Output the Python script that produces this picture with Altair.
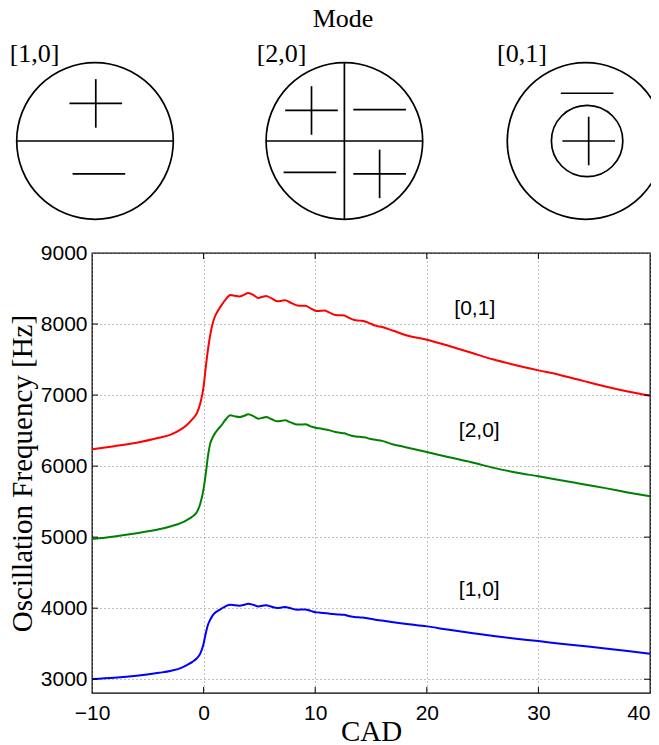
import altair as alt
import pandas as pd

# ---------------- data ----------------
cad = [-10, -8, -6, -4, -3, -2, -1.5, -1, -0.6, -0.3, 0, 0.2, 0.4, 0.6, 0.8, 1.0,
       1.3, 1.6, 2.0, 2.4, 2.8, 3.2, 3.6, 4.0, 4.5, 4.9, 5.3, 5.6, 6.1, 6.6, 7.0,
       7.3, 7.8, 8.4, 8.8, 9.1, 9.6, 10.1, 10.5, 10.8, 11.3, 11.8, 12.2, 12.6,
       13.0, 13.5, 14.0, 14.4, 14.9, 15.4, 16.0, 17, 18, 20, 22, 24, 26, 28, 30,
       32, 34, 36, 38, 40]

freq_01 = [6236, 6280, 6330, 6400, 6440, 6520, 6580, 6660, 6745, 6880, 7120, 7400,
           7650, 7850, 8000, 8099, 8190, 8264, 8350, 8408, 8398, 8388, 8410, 8437,
           8405, 8366, 8385, 8395, 8360, 8320, 8328, 8334, 8300, 8262, 8258, 8259,
           8220, 8183, 8187, 8189, 8160, 8127, 8124, 8120, 8090, 8057, 8048, 8040,
           8010, 7978, 7958, 7905, 7850, 7780, 7690, 7595, 7500, 7420, 7348, 7280,
           7200, 7120, 7050, 6990]

freq_20 = [4973, 5010, 5055, 5110, 5150, 5200, 5240, 5290, 5355, 5470, 5680, 5900,
           6150, 6320, 6400, 6457, 6520, 6574, 6660, 6715, 6700, 6690, 6705, 6729,
           6700, 6668, 6682, 6691, 6660, 6630, 6638, 6644, 6615, 6584, 6586, 6588,
           6560, 6536, 6530, 6520, 6503, 6480, 6470, 6462, 6440, 6420, 6412, 6405,
           6385, 6370, 6355, 6305, 6270, 6198, 6125, 6055, 5975, 5910, 5856, 5800,
           5745, 5690, 5630, 5575]

freq_10 = [3002, 3020, 3048, 3090, 3115, 3160, 3200, 3245, 3295, 3360, 3500, 3650,
           3770, 3840, 3895, 3931, 3965, 3993, 4030, 4050, 4040, 4035, 4045, 4063,
           4045, 4025, 4035, 4040, 4020, 4002, 4010, 4016, 3998, 3979, 3981, 3983,
           3962, 3941, 3937, 3933, 3923, 3915, 3910, 3907, 3890, 3877, 3870, 3866,
           3850, 3838, 3826, 3802, 3780, 3744, 3695, 3650, 3607, 3570, 3537, 3500,
           3467, 3434, 3398, 3360]

series_names = ["[0,1]", "[2,0]", "[1,0]"]
series_colors = ["#ff0000", "#008000", "#0000ff"]

label_text = ["[0,1]", "[2,0]", "[1,0]"]
label_cad = [24.3, 24.7, 24.7]
label_freq = [8207, 6497, 4251]

x_ticks = [-10, 0, 10, 20, 30, 40]
y_ticks = [3000, 4000, 5000, 6000, 7000, 8000, 9000]
x_inner_ticks = [0, 10, 20, 30]
y_inner_ticks = [3000, 4000, 5000, 6000, 7000, 8000]

# ---------------- mode diagrams (unit = circle radius) ----------------
diagram_names = ["[1,0]", "[2,0]", "[0,1]"]
diagram_cx = [0.0, 3.185, 6.265]
label_dx = [-1.09, -1.12, -1.13]
label_dy = [1.015, 1.015, 1.015]

circle_diag = [0, 1, 2, 2]
circle_dx = [0.0, 0.0, 0.0, 0.02]
circle_dy = [0.0, 0.0, 0.0, 0.0]
circle_r = [1.0, 1.0, 1.0, 0.456]

# node lines: diagram, x1, y1, x2, y2
seg_diag = [0, 1, 1]
seg_x1 = [-1.0, -1.0, 0.0]
seg_y1 = [0.0, 0.0, -1.0]
seg_x2 = [1.0, 1.0, 0.0]
seg_y2 = [0.0, 0.0, 1.0]

# signs: diagram, dx, dy, kind
sign_diag = [0, 0, 1, 1, 1, 1, 2, 2]
sign_dx = [0.01, 0.05, -0.42, 0.45, -0.44, 0.45, 0.02, 0.04]
sign_dy = [0.48, -0.42, 0.39, 0.40, -0.40, -0.42, 0.61, 0.0]
sign_kind = ["+", "-", "+", "-", "-", "+", "-", "+"]
arm_h = 0.336
arm_v = 0.31

title_text = "Mode"
title_x = 3.167
title_y = 1.45

# ---------------- build tables ----------------
rows = []
for name, vals in zip(series_names, [freq_01, freq_20, freq_10]):
    for c, v in zip(cad, vals):
        rows.append({"CAD": c, "freq": v, "mode": name})
lines_df = pd.DataFrame(rows)
labels_df = pd.DataFrame({"CAD": label_cad, "freq": label_freq, "t": label_text})

W, H = 558, 440
XD = [-10, 40]
YD = [2806, 9000]
xs = alt.Scale(domain=XD, nice=False, zero=False)
ys = alt.Scale(domain=YD, nice=False, zero=False)

unit_px = 78.3
dxs = alt.Scale(domain=[-1, 7], range=[3 - unit_px, 3 + 7 * unit_px], nice=False, zero=False)
dys = alt.Scale(domain=[-1, 1], range=[-112 + unit_px, -112 - unit_px], nice=False, zero=False)

circ_df = pd.DataFrame({
    "x": [diagram_cx[d] + dx for d, dx in zip(circle_diag, circle_dx)],
    "y": circle_dy,
    "size": [(2 * r * unit_px) ** 2 for r in circle_r],
})

seg_rows = []
for d, a, b, c, e in zip(seg_diag, seg_x1, seg_y1, seg_x2, seg_y2):
    seg_rows.append({"x": diagram_cx[d] + a, "y": b, "x2": diagram_cx[d] + c, "y2": e})
for d, dx, dy, k in zip(sign_diag, sign_dx, sign_dy, sign_kind):
    cx = diagram_cx[d] + dx
    seg_rows.append({"x": cx - arm_h, "y": dy, "x2": cx + arm_h, "y2": dy})
    if k == "+":
        seg_rows.append({"x": cx, "y": dy - arm_v, "x2": cx, "y2": dy + arm_v})
seg_df = pd.DataFrame(seg_rows)

dlab_df = pd.DataFrame({
    "x": [cx + dx for cx, dx in zip(diagram_cx, label_dx)],
    "y": label_dy,
    "t": diagram_names,
})
dtitle_df = pd.DataFrame({"x": [title_x], "y": [title_y], "t": [title_text]})

# ---------------- main plot ----------------
lines = alt.Chart(lines_df).mark_line(strokeWidth=2, interpolate="monotone").encode(
    x=alt.X("CAD:Q", scale=xs,
            axis=alt.Axis(values=x_ticks, title="CAD", grid=True, labelPadding=9,
                          format="d", labelFlush=False, labelOverlap=False,
                          labelAlign=alt.ExprRef(expr="datum.value >= 40 ? 'right' : 'center'"),
                          titleX=W / 2, titleY=47, titleBaseline="alphabetic",
                          titleAlign="center")),
    y=alt.Y("freq:Q", scale=ys,
            axis=alt.Axis(values=y_ticks, title="Oscillation Frequency [Hz]", grid=True,
                          labelPadding=5, format="d", labelFlush=False,
                          labelOverlap=False,
                          titleX=-61, titleY=H / 2, titleAngle=-90,
                          titleBaseline="alphabetic", titleAlign="center")),
    color=alt.Color("mode:N", scale=alt.Scale(domain=series_names, range=series_colors),
                    legend=None),
    detail="mode:N",
)

labels = alt.Chart(labels_df).mark_text(font="Liberation Sans", fontSize=21,
                                        color="black", baseline="middle",
                                        align="center").encode(
    x=alt.X("CAD:Q", scale=xs), y=alt.Y("freq:Q", scale=ys), text="t:N")

xt_df = pd.DataFrame({"v": x_inner_ticks})
yt_df = pd.DataFrame({"v": y_inner_ticks})
tk = dict(color="black", strokeWidth=1)
tick_bottom = alt.Chart(xt_df).mark_rule(**tk).encode(
    x=alt.X("v:Q", scale=xs), y=alt.value(H), y2=alt.value(H - 6))
tick_top = alt.Chart(xt_df).mark_rule(**tk).encode(
    x=alt.X("v:Q", scale=xs), y=alt.value(0), y2=alt.value(6))
tick_left = alt.Chart(yt_df).mark_rule(**tk).encode(
    y=alt.Y("v:Q", scale=ys), x=alt.value(0), x2=alt.value(6))
tick_right = alt.Chart(yt_df).mark_rule(**tk).encode(
    y=alt.Y("v:Q", scale=ys), x=alt.value(W), x2=alt.value(W - 6))

main = alt.layer(lines, labels, tick_bottom, tick_top, tick_left, tick_right)

# ---------------- diagrams ----------------
circles = alt.Chart(circ_df).mark_point(shape="circle", filled=False, color="black",
                                        strokeWidth=1.7, opacity=1).encode(
    x=alt.X("x:Q", scale=dxs, axis=None),
    y=alt.Y("y:Q", scale=dys, axis=None),
    size=alt.Size("size:Q", scale=None, legend=None),
)
segs = alt.Chart(seg_df).mark_rule(color="black", strokeWidth=1.7).encode(
    x=alt.X("x:Q", scale=dxs, axis=None), y=alt.Y("y:Q", scale=dys, axis=None),
    x2="x2:Q", y2="y2:Q")
dlabels = alt.Chart(dlab_df).mark_text(font="Liberation Serif", fontSize=26,
                                       color="black", align="left",
                                       baseline="alphabetic").encode(
    x=alt.X("x:Q", scale=dxs, axis=None), y=alt.Y("y:Q", scale=dys, axis=None),
    text="t:N")
dtitle = alt.Chart(dtitle_df).mark_text(font="Liberation Serif", fontSize=26,
                                        color="black", align="center",
                                        baseline="alphabetic").encode(
    x=alt.X("x:Q", scale=dxs, axis=None), y=alt.Y("y:Q", scale=dys, axis=None),
    text="t:N")
diagrams = alt.layer(circles, segs, dlabels, dtitle)

chart = alt.layer(main, diagrams).resolve_scale(
    x="independent", y="independent"
).properties(
    width=W, height=H,
    background="white",
    autosize=alt.AutoSizeParams(type="none"),
    padding={"left": 84, "top": 245, "right": 1, "bottom": 52},
).configure_view(
    stroke="black", strokeWidth=1.3
).configure_axis(
    labelFont="Liberation Sans", labelFontSize=21, labelColor="black",
    titleFont="Liberation Serif", titleFontSize=29, titleFontWeight="normal",
    titleColor="black", domain=False, ticks=False, tickSize=0,
    gridColor="#808080", gridDash=[1, 3], gridWidth=1, gridOpacity=1,
)

chart.save("out.html", embed_options={"renderer": "svg", "actions": False})
